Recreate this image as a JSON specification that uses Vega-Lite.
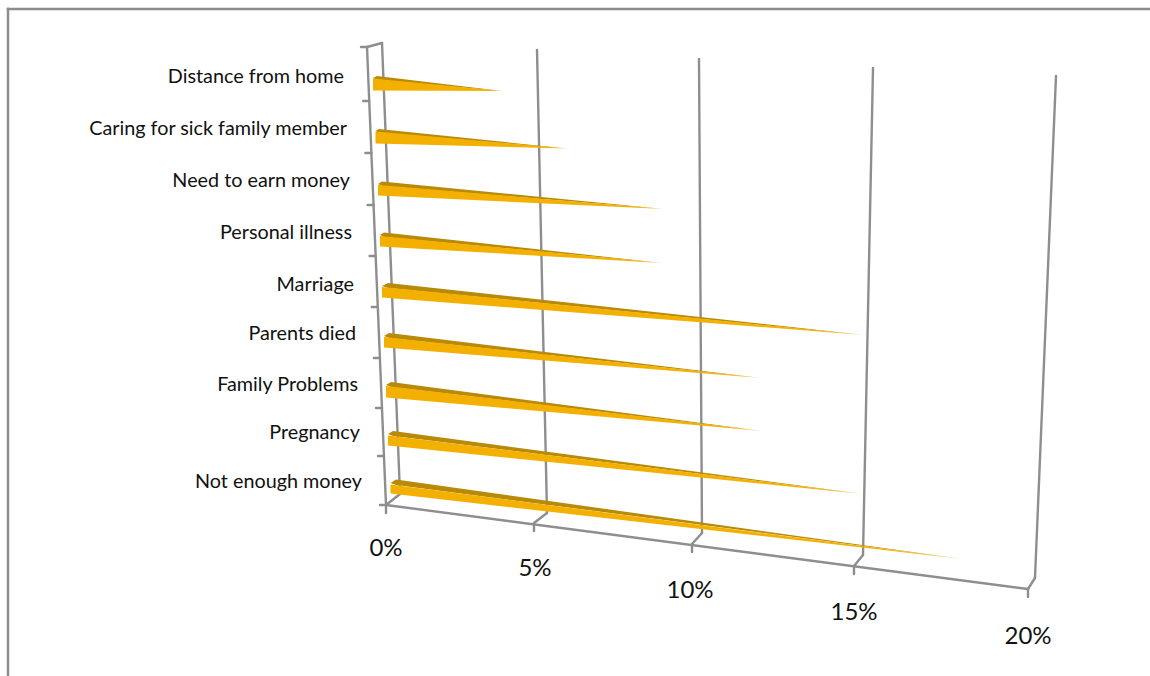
{
  "$schema": "https://vega.github.io/schema/vega-lite/v6.json",
  "width": 1150,
  "height": 676,
  "padding": 0,
  "autosize": "none",
  "background": "white",
  "config": {"view": {"stroke": null}},
  "datasets": {
    "frame": [
      {"x": -11.8125, "y": 9.92, "x2": 23.875, "y2": 9.92},
      {"x": -11.8125, "y": 9.92, "x2": -11.8125, "y2": -3.42}
    ],
    "walls": [
      {"x": -0.594, "y": 9.16, "x2": 0, "y2": 0},
      {"x": -0.594, "y": 9.16, "x2": -0.125, "y2": 9.24},
      {"x": -0.781, "y": 9.16, "x2": -0.594, "y2": 9.16},
      {"x": -0.7125, "y": 8.08, "x2": -0.525, "y2": 8.08},
      {"x": -0.644, "y": 7.04, "x2": -0.456, "y2": 7.04},
      {"x": -0.575, "y": 6.0, "x2": -0.3875, "y2": 6.0},
      {"x": -0.51, "y": 4.98, "x2": -0.322, "y2": 4.98},
      {"x": -0.444, "y": 3.96, "x2": -0.256, "y2": 3.96},
      {"x": -0.379, "y": 2.94, "x2": -0.191, "y2": 2.94},
      {"x": -0.3125, "y": 1.94, "x2": -0.125, "y2": 1.94},
      {"x": -0.25, "y": 0.98, "x2": -0.0625, "y2": 0.98},
      {"x": -0.1875, "y": 0, "x2": 0, "y2": 0},
      {"x": -0.125, "y": 9.24, "x2": 0.4375, "y2": 0.22},
      {"x": 0.4375, "y": 0.22, "x2": 0, "y2": 0},
      {"x": 0, "y": 0, "x2": 0, "y2": -0.16},
      {"x": 0, "y": 0, "x2": 20.0625, "y2": -1.68},
      {"x": 4.719, "y": 9.1, "x2": 5.031, "y2": -0.16},
      {"x": 5.031, "y": -0.16, "x2": 4.625, "y2": -0.36},
      {"x": 4.625, "y": -0.36, "x2": 4.625, "y2": -0.52},
      {"x": 9.781, "y": 8.92, "x2": 9.875, "y2": -0.56},
      {"x": 9.875, "y": -0.56, "x2": 9.5625, "y2": -0.78},
      {"x": 9.5625, "y": -0.78, "x2": 9.5625, "y2": -0.94},
      {"x": 15.219, "y": 8.74, "x2": 14.906, "y2": -1.0},
      {"x": 14.906, "y": -1.0, "x2": 14.625, "y2": -1.22},
      {"x": 14.625, "y": -1.22, "x2": 14.625, "y2": -1.38},
      {"x": 20.9375, "y": 8.58, "x2": 20.281, "y2": -1.46},
      {"x": 20.281, "y": -1.46, "x2": 20.0625, "y2": -1.68},
      {"x": 20.0625, "y": -1.68, "x2": 20.0625, "y2": -1.84}
    ],
    "topFaces": [
      {"cause": "Distance from home", "x": -0.406, "top": 8.54, "bottom": 8.54},
      {"cause": "Distance from home", "x": -0.281, "top": 8.58, "bottom": 8.5},
      {"cause": "Distance from home", "x": 3.625, "top": 8.28, "bottom": 8.28},
      {"cause": "Caring for sick family member", "x": -0.328, "top": 7.48, "bottom": 7.48},
      {"cause": "Caring for sick family member", "x": -0.219, "top": 7.52, "bottom": 7.44},
      {"cause": "Caring for sick family member", "x": 5.656, "top": 7.13, "bottom": 7.13},
      {"cause": "Need to earn money", "x": -0.25, "top": 6.42, "bottom": 6.42},
      {"cause": "Need to earn money", "x": -0.125, "top": 6.47, "bottom": 6.38},
      {"cause": "Need to earn money", "x": 8.6875, "top": 5.92, "bottom": 5.92},
      {"cause": "Personal illness", "x": -0.188, "top": 5.4, "bottom": 5.4},
      {"cause": "Personal illness", "x": -0.0625, "top": 5.45, "bottom": 5.36},
      {"cause": "Personal illness", "x": 8.625, "top": 4.84, "bottom": 4.84},
      {"cause": "Marriage", "x": -0.125, "top": 4.38, "bottom": 4.38},
      {"cause": "Marriage", "x": 0.0625, "top": 4.44, "bottom": 4.34},
      {"cause": "Marriage", "x": 14.9375, "top": 3.4, "bottom": 3.4},
      {"cause": "Parents died", "x": -0.0625, "top": 3.38, "bottom": 3.38},
      {"cause": "Parents died", "x": 0.094, "top": 3.44, "bottom": 3.34},
      {"cause": "Parents died", "x": 11.719, "top": 2.54, "bottom": 2.54},
      {"cause": "Family Problems", "x": 0, "top": 2.4, "bottom": 2.4},
      {"cause": "Family Problems", "x": 0.156, "top": 2.46, "bottom": 2.36},
      {"cause": "Family Problems", "x": 11.75, "top": 1.48, "bottom": 1.48},
      {"cause": "Pregnancy", "x": 0.0625, "top": 1.42, "bottom": 1.42},
      {"cause": "Pregnancy", "x": 0.219, "top": 1.48, "bottom": 1.38},
      {"cause": "Pregnancy", "x": 14.906, "top": 0.22, "bottom": 0.22},
      {"cause": "Not enough money", "x": 0.141, "top": 0.44, "bottom": 0.44},
      {"cause": "Not enough money", "x": 0.3125, "top": 0.51, "bottom": 0.4},
      {"cause": "Not enough money", "x": 18.0, "top": -1.08, "bottom": -1.08}
    ],
    "frontFaces": [
      {"cause": "Distance from home", "share": 4, "x": -0.406, "top": 8.53, "bottom": 8.29},
      {"cause": "Distance from home", "share": 4, "x": 3.625, "top": 8.28, "bottom": 8.28},
      {"cause": "Caring for sick family member", "share": 6, "x": -0.328, "top": 7.47, "bottom": 7.23},
      {"cause": "Caring for sick family member", "share": 6, "x": 5.656, "top": 7.13, "bottom": 7.13},
      {"cause": "Need to earn money", "share": 9, "x": -0.25, "top": 6.4, "bottom": 6.19},
      {"cause": "Need to earn money", "share": 9, "x": 8.6875, "top": 5.92, "bottom": 5.92},
      {"cause": "Personal illness", "share": 9, "x": -0.188, "top": 5.38, "bottom": 5.17},
      {"cause": "Personal illness", "share": 9, "x": 8.625, "top": 4.84, "bottom": 4.84},
      {"cause": "Marriage", "share": 15, "x": -0.125, "top": 4.36, "bottom": 4.15},
      {"cause": "Marriage", "share": 15, "x": 14.9375, "top": 3.4, "bottom": 3.4},
      {"cause": "Parents died", "share": 12, "x": -0.0625, "top": 3.36, "bottom": 3.15},
      {"cause": "Parents died", "share": 12, "x": 11.719, "top": 2.54, "bottom": 2.54},
      {"cause": "Family Problems", "share": 12, "x": 0, "top": 2.38, "bottom": 2.15},
      {"cause": "Family Problems", "share": 12, "x": 11.75, "top": 1.48, "bottom": 1.48},
      {"cause": "Pregnancy", "share": 15, "x": 0.0625, "top": 1.39, "bottom": 1.19},
      {"cause": "Pregnancy", "share": 15, "x": 14.906, "top": 0.22, "bottom": 0.22},
      {"cause": "Not enough money", "share": 18, "x": 0.141, "top": 0.41, "bottom": 0.23},
      {"cause": "Not enough money", "share": 18, "x": 18.0, "top": -1.08, "bottom": -1.08}
    ],
    "causeLabels": [
      {"cause": "Distance from home", "x": -1.3125, "y": 8.57},
      {"cause": "Caring for sick family member", "x": -1.219, "y": 7.53},
      {"cause": "Need to earn money", "x": -1.125, "y": 6.49},
      {"cause": "Personal illness", "x": -1.0625, "y": 5.45},
      {"cause": "Marriage", "x": -1.0, "y": 4.41},
      {"cause": "Parents died", "x": -0.9375, "y": 3.43},
      {"cause": "Family Problems", "x": -0.875, "y": 2.41},
      {"cause": "Pregnancy", "x": -0.8125, "y": 1.45},
      {"cause": "Not enough money", "x": -0.75, "y": 0.47}
    ],
    "percentLabels": [
      {"label": "0%", "x": 0, "y": -0.87},
      {"label": "5%", "x": 4.656, "y": -1.27},
      {"label": "10%", "x": 9.5, "y": -1.71},
      {"label": "15%", "x": 14.625, "y": -2.15},
      {"label": "20%", "x": 20.0625, "y": -2.63}
    ]
  },
  "layer": [
    {
      "data": {"name": "frame"},
      "mark": {"type": "rule", "color": "#8c8c8c", "strokeWidth": 2.5, "strokeCap": "square"},
      "encoding": {
        "x": {"field": "x", "type": "quantitative", "scale": {"domain": [-12.0625, 23.875], "nice": false, "zero": false}, "axis": null},
        "y": {"field": "y", "type": "quantitative", "scale": {"domain": [-3.42, 10.1], "nice": false, "zero": false}, "axis": null},
        "x2": {"field": "x2"},
        "y2": {"field": "y2"}
      }
    },
    {
      "data": {"name": "walls"},
      "mark": {"type": "rule", "color": "#8e8e8e", "strokeWidth": 2.4, "strokeCap": "round"},
      "encoding": {
        "x": {"field": "x", "type": "quantitative"},
        "y": {"field": "y", "type": "quantitative"},
        "x2": {"field": "x2"},
        "y2": {"field": "y2"}
      }
    },
    {
      "data": {"name": "topFaces"},
      "mark": {"type": "area", "orient": "vertical", "color": "#b98a08"},
      "encoding": {
        "x": {"field": "x", "type": "quantitative"},
        "y": {"field": "top", "type": "quantitative"},
        "y2": {"field": "bottom"},
        "detail": {"field": "cause"}
      }
    },
    {
      "data": {"name": "frontFaces"},
      "mark": {
        "type": "area",
        "orient": "vertical",
        "color": {
          "x1": 0, "y1": 0, "x2": 1, "y2": 0,
          "gradient": "linear",
          "stops": [
            {"offset": 0, "color": "#f3b000"},
            {"offset": 0.94, "color": "#f3b000"},
            {"offset": 1, "color": "#fbe6b0"}
          ]
        }
      },
      "encoding": {
        "x": {"field": "x", "type": "quantitative"},
        "y": {"field": "top", "type": "quantitative"},
        "y2": {"field": "bottom"},
        "detail": {"field": "cause"}
      }
    },
    {
      "data": {"name": "causeLabels"},
      "mark": {"type": "text", "align": "right", "baseline": "middle", "font": "Lato", "fontSize": 19.8, "color": "#111111"},
      "encoding": {
        "x": {"field": "x", "type": "quantitative"},
        "y": {"field": "y", "type": "quantitative"},
        "text": {"field": "cause"}
      }
    },
    {
      "data": {"name": "percentLabels"},
      "mark": {"type": "text", "align": "center", "baseline": "middle", "font": "Lato", "fontSize": 24, "color": "#111111"},
      "encoding": {
        "x": {"field": "x", "type": "quantitative"},
        "y": {"field": "y", "type": "quantitative"},
        "text": {"field": "label"}
      }
    }
  ]
}
